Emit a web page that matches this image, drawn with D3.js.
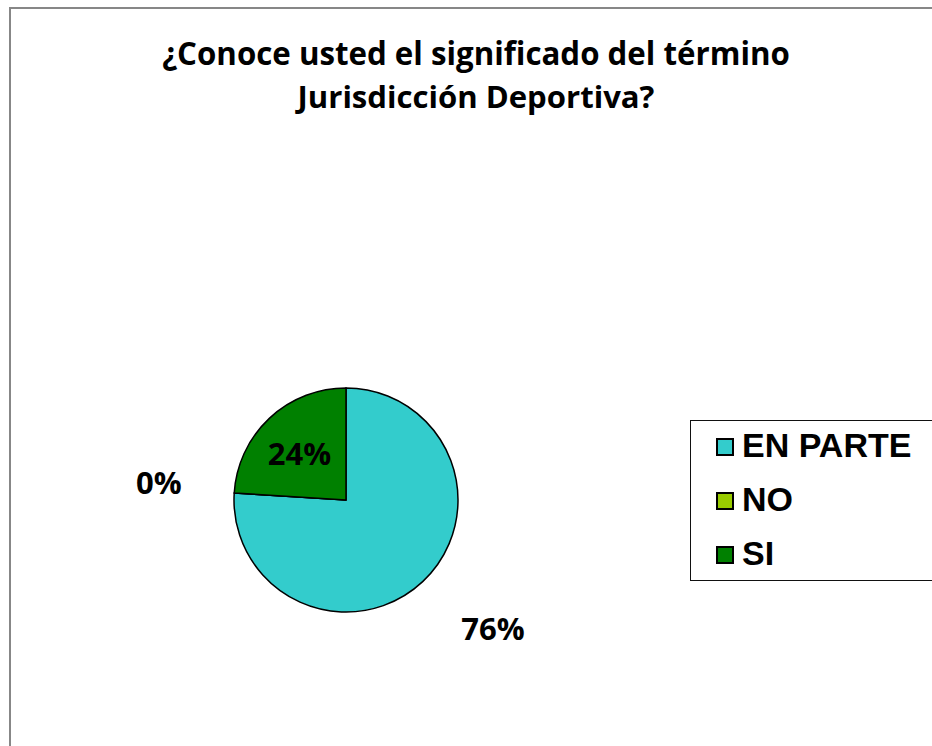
<!DOCTYPE html>
<meta charset="utf-8">
<style>
    body { margin: 0; background: #fff; }
    text { font-weight: bold; fill: #000; }
    .title { font-family: "Open Sans", sans-serif; }
    .pct { font-family: "Open Sans", sans-serif; }
    .legend text { font-family: "Liberation Sans", Arial, sans-serif; font-size: 34px; }
</style>
<body>
<script src="https://cdn.jsdelivr.net/npm/d3@7"></script>
<script>
// data
var categories = ["EN PARTE", "NO", "SI"];
var values = [76, 0, 24];
var colors = ["#33cccc", "#99cc00", "#008000"];
var titleLines = ["¿Conoce usted el significado del término", "Jurisdicción Deportiva?"];

var width = 932, height = 746;
var cx = 346, cy = 500, r = 112;

var svg = d3.select("body").append("svg")
    .attr("width", width)
    .attr("height", height);

// chart area frame (right and bottom run off the picture)
svg.append("rect")
    .attr("x", 10).attr("y", 8)
    .attr("width", 960).attr("height", 800)
    .attr("fill", "#fff")
    .attr("stroke", "#878787")
    .attr("stroke-width", 2);

// title, fitted to the widths seen in the reference
var titleWidths = [628, 357];
svg.selectAll("text.title").data(titleLines).enter().append("text")
    .attr("class", "title")
    .attr("x", 476)
    .attr("y", function(d, i) { return 65 + i * 43; })
    .attr("text-anchor", "middle")
    .style("font-size", "30px")
    .text(function(d) { return d; })
    .each(function(d, i) {
        var w = this.getComputedTextLength();
        d3.select(this).style("font-size", (30 * titleWidths[i] / w) + "px");
    });

var pie = d3.pie().sort(null).value(function(d) { return d; });
var arcs = pie(values);
var arc = d3.arc().innerRadius(0).outerRadius(r);

var g = svg.append("g").attr("transform", "translate(" + cx + "," + cy + ")");

g.selectAll("path").data(arcs).enter().append("path")
    .attr("d", arc)
    .attr("fill", function(d, i) { return colors[i]; })
    .attr("stroke", "#000")
    .attr("stroke-width", 1.5);

// labels: big slices outside, small slice inside
var outerLabel = d3.arc().innerRadius(r * 1.72).outerRadius(r * 1.72);
var innerLabel = d3.arc().innerRadius(r * 0.58).outerRadius(r * 0.58);

g.selectAll("text.pct").data(arcs).enter().append("text")
    .attr("class", "pct")
    .attr("text-anchor", "middle")
    .attr("dominant-baseline", "central")
    .style("font-size", "31px")
    .attr("transform", function(d, i) {
        var p = (i === 2 ? innerLabel : outerLabel).centroid(d);
        if (i === 0) { p[0] += 15; p[1] -= 12; }
        if (i === 1) { p[0] += 5; p[1] -= 6; }
        if (i === 2) { p[0] -= 2; }
        return "translate(" + p + ")";
    })
    .text(function(d) { return d.value + "%"; });

// legend
var legend = svg.append("g").attr("class", "legend");
legend.append("rect")
    .attr("x", 690.5).attr("y", 420.5)
    .attr("width", 300).attr("height", 160)
    .attr("fill", "#fff")
    .attr("stroke", "#111")
    .attr("stroke-width", 1);

var items = legend.selectAll("g.item").data(categories).enter().append("g")
    .attr("class", "item")
    .attr("transform", function(d, i) { return "translate(0," + (457 + i * 54) + ")"; });

items.append("rect")
    .attr("x", 717).attr("y", -18)
    .attr("width", 16).attr("height", 16)
    .attr("fill", function(d, i) { return colors[i]; })
    .attr("stroke", "#000")
    .attr("stroke-width", 2);

items.append("text")
    .attr("x", 742)
    .attr("y", 0)
    .text(function(d) { return d; });
</script>
